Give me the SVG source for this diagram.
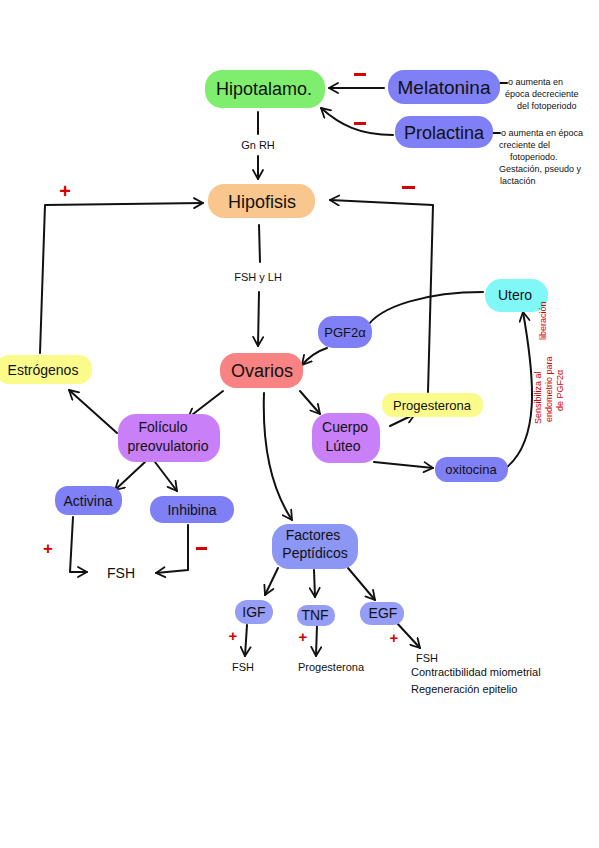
<svg xmlns="http://www.w3.org/2000/svg" width="599" height="848" viewBox="0 0 599 848">
<defs>
<marker id="ah" viewBox="0 0 12 12" refX="10" refY="6" markerWidth="12" markerHeight="12" markerUnits="userSpaceOnUse" orient="auto">
<path d="M1,1 L10,6 L1,11" fill="none" stroke="#111" stroke-width="1.8" stroke-linecap="round" stroke-linejoin="round"/>
</marker>
<style>
.c{fill:none;stroke:#111;stroke-width:2;stroke-linecap:round;stroke-linejoin:round}
.a{marker-end:url(#ah)}
text{font-family:"Liberation Sans","DejaVu Sans",sans-serif;fill:#111}
.big{font-size:18px;text-anchor:middle}
.mid{font-size:14px;text-anchor:middle}
.sm{font-size:11px;text-anchor:middle}
.note{font-size:9px}
.rn{font-size:9px;fill:#d40000}
.plus{font-size:20px;font-weight:bold;fill:#d40000;text-anchor:middle}
</style>
</defs>
<rect width="599" height="848" fill="#fff"/>

<g id="connectors">
<path class="c a" d="M384,88 L329,88"/>
<path class="c a" d="M393,135 C360,135 340,125 321,108"/>
<path class="c" d="M258,112 L258,134"/>
<path class="c a" d="M258,156 L258,179"/>
<path class="c a" d="M40,353 L45,205 L203,203"/>
<path class="c a" d="M428,392 L433,205 L330,200"/>
<path class="c" d="M259,225 L260,262"/>
<path class="c a" d="M259,292 L258,346"/>
<path class="c a" d="M223,391 L188,418"/>
<path class="c a" d="M300,391 L320,414"/>
<path class="c a" d="M264,393 C262,450 272,490 292,520"/>
<path class="c a" d="M117,433 L69,390"/>
<path class="c a" d="M390,426 L415,414"/>
<path class="c a" d="M374,462 L433,468"/>
<path class="c a" d="M506,468 C540,440 535,380 523,312"/>
<path class="c" d="M483,292 C430,292 380,305 366,328"/>
<path class="c a" d="M327,348 C315,352 308,358 302,365"/>
<path class="c a" d="M145,462 L115,490"/>
<path class="c a" d="M155,462 L177,491"/>
<path class="c a" d="M73,517 L70,572 L87,572"/>
<path class="c a" d="M188,525 L188,570 L156,573"/>
<path class="c a" d="M278,568 L265,595"/>
<path class="c a" d="M314,570 L315,597"/>
<path class="c a" d="M348,568 L375,600"/>
<path class="c a" d="M247,625 L245,656"/>
<path class="c a" d="M317,625 L316,656"/>
<path class="c a" d="M396,622 L420,648"/>
<path class="c" d="M500,83 L507,83" stroke-width="1.2"/>
<path class="c" d="M493,133 L500,133" stroke-width="1.2"/>
</g>

<g id="signs">
<rect x="354" y="73" width="12" height="3" fill="#d40000"/>
<rect x="354" y="122" width="12" height="3" fill="#d40000"/>
<rect x="402" y="186" width="13" height="3" fill="#d40000"/>
<rect x="196" y="547" width="11" height="3" fill="#d40000"/>
<text class="plus" x="65" y="198">+</text>
<text class="plus" x="48" y="554" style="font-size:17px">+</text>
<text class="plus" x="233" y="641" style="font-size:15px">+</text>
<text class="plus" x="303" y="642" style="font-size:15px">+</text>
<text class="plus" x="394" y="643" style="font-size:15px">+</text>
</g>

<g id="hipotalamo">
<rect x="205" y="70" width="120" height="38" rx="17" fill="#7fee6e"/>
<text class="big" x="264" y="95">Hipotalamo.</text>
</g>
<g id="melatonina">
<rect x="388" y="70" width="112" height="34" rx="16" fill="#7f80f6"/>
<text class="big" x="444" y="94" style="font-size:19px">Melatonina</text>
</g>
<g id="prolactina">
<rect x="395" y="116" width="98" height="32" rx="15" fill="#7f80f6"/>
<text class="big" x="444" y="139">Prolactina</text>
</g>
<g id="nota-melatonina">
<text class="note" x="508" y="85">o aumenta en</text>
<text class="note" x="505" y="97">época decreciente</text>
<text class="note" x="517" y="109">del fotoperiodo</text>
</g>
<g id="nota-prolactina">
<text class="note" x="501" y="136">o aumenta en época</text>
<text class="note" x="499" y="148">creciente del</text>
<text class="note" x="510" y="160">fotoperiodo.</text>
<text class="note" x="499" y="172">Gestación, pseudo y</text>
<text class="note" x="500" y="184">lactación</text>
</g>
<g id="gnrh">
<text class="sm" x="258" y="149">Gn RH</text>
</g>
<g id="hipofisis">
<rect x="208" y="184" width="107" height="34" rx="16" fill="#f9c68e"/>
<text class="big" x="262" y="208">Hipofisis</text>
</g>
<g id="fshlh">
<text class="sm" x="258" y="281">FSH y LH</text>
</g>
<g id="utero">
<rect x="485" y="279" width="63" height="33" rx="16" fill="#80f8f8"/>
<text class="mid" x="515" y="300">Utero</text>
</g>
<g id="pgf2a">
<rect x="318" y="316" width="54" height="32" rx="15" fill="#7f80f6"/>
<text class="mid" x="345" y="337" style="font-size:13px">PGF2α</text>
</g>
<g id="ovarios">
<rect x="220" y="353" width="83" height="35" rx="16" fill="#f98282"/>
<text class="big" x="262" y="377">Ovarios</text>
</g>
<g id="estrogenos">
<rect x="-4" y="355" width="96" height="29" rx="13" fill="#fbfb8c"/>
<text class="mid" x="43" y="375">Estrógenos</text>
</g>
<g id="progesterona">
<rect x="382" y="393" width="101" height="24" rx="11" fill="#fbfb8c"/>
<text class="mid" x="432" y="410" style="font-size:13px">Progesterona</text>
</g>
<g id="foliculo">
<rect x="118" y="414" width="102" height="48" rx="18" fill="#c87ff8"/>
<text class="mid" x="163" y="432">Folículo</text>
<text class="mid" x="168" y="451">preovulatorio</text>
</g>
<g id="cuerpo-luteo">
<rect x="312" y="413" width="68" height="50" rx="18" fill="#c87ff8"/>
<text class="mid" x="345" y="432">Cuerpo</text>
<text class="mid" x="343" y="451">Lúteo</text>
</g>
<g id="oxitocina">
<rect x="435" y="457" width="73" height="25" rx="12" fill="#7f80f6"/>
<text class="mid" x="471" y="474" style="font-size:13px">oxitocina</text>
</g>
<g id="nota-utero">
<text class="rn" transform="translate(541,424) rotate(-90)">Sensibiliza al</text>
<text class="rn" transform="translate(546,340) rotate(-90)">liberación</text>
<text class="rn" transform="translate(552,422) rotate(-90)">endometrio para</text>
<text class="rn" transform="translate(563,411) rotate(-90)">de PGF2α</text>
</g>
<g id="activina">
<rect x="55" y="486" width="67" height="29" rx="13" fill="#7f80f6"/>
<text class="mid" x="88" y="506">Activina</text>
</g>
<g id="inhibina">
<rect x="150" y="496" width="84" height="27" rx="13" fill="#7f80f6"/>
<text class="mid" x="192" y="515">Inhibina</text>
</g>
<g id="fsh">
<text class="mid" x="121" y="578">FSH</text>
</g>
<g id="factores">
<rect x="272" y="524" width="86" height="45" rx="17" fill="#8c96f5"/>
<text class="mid" x="313" y="540">Factores</text>
<text class="mid" x="315" y="558">Peptídicos</text>
</g>
<g id="igf">
<rect x="235" y="600" width="38" height="24" rx="12" fill="#959df5"/>
<text class="mid" x="254" y="617">IGF</text>
</g>
<g id="tnf">
<rect x="297" y="605" width="38" height="21" rx="10" fill="#959df5"/>
<text class="mid" x="315" y="620">TNF</text>
</g>
<g id="egf">
<rect x="360" y="602" width="44" height="23" rx="11" fill="#959df5"/>
<text class="mid" x="383" y="618">EGF</text>
</g>
<g id="fsh-igf">
<text class="sm" x="243" y="671">FSH</text>
</g>
<g id="prog-tnf">
<text class="sm" x="331" y="671">Progesterona</text>
</g>
<g id="egf-efectos">
<text class="sm" x="416" y="662" style="text-anchor:start">FSH</text>
<text class="sm" x="411" y="676" style="text-anchor:start">Contractibilidad miometrial</text>
<text class="sm" x="411" y="693" style="text-anchor:start">Regeneración epitelio</text>
</g>
</svg>
